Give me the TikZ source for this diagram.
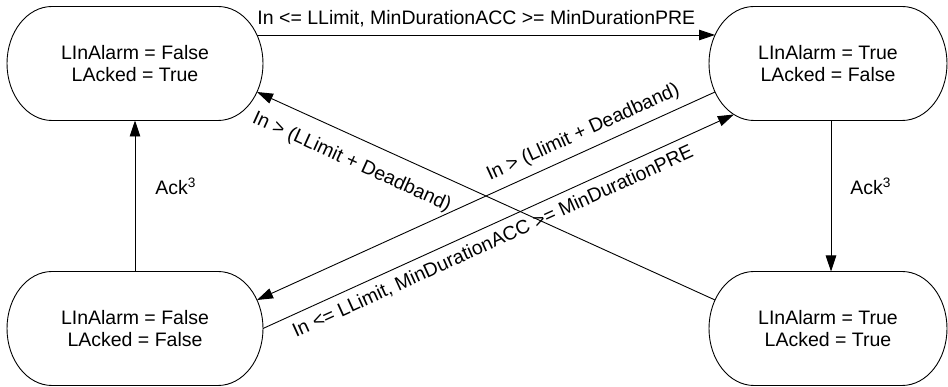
\documentclass[tikz,border=0pt]{standalone}
\usepackage{fontspec}
\setmainfont{Liberation Sans}
\usetikzlibrary{calc,arrows.meta}
\begin{document}
\begin{tikzpicture}[x=1pt,y=1pt,
  state/.style={minimum width=256pt,minimum height=114pt,inner sep=0pt,outer sep=0pt,align=center,font=\fontsize{19.5}{22.4}\selectfont,text=black},
  outline/.style={draw=black,line width=0.9pt},
  conn/.style={draw=black,line width=0.9pt,-{Triangle[length=16pt,width=10.5pt]}},
  lbl/.style={font=\fontsize{19.5}{22.4}\selectfont,inner xsep=0pt}]
\useasboundingbox (0,0) rectangle (948,387);
\node[state] (tl) at (135,323.5) {LInAlarm = False\\LAcked = True};
\node[state,minimum width=238pt] (tr) at (828,323.5) {LInAlarm = True\\LAcked = False};
\node[state] (bl) at (135,58.5) {LInAlarm = False\\LAcked = False};
\node[state,minimum width=238pt] (br) at (828,58.5) {LInAlarm = True\\LAcked = True};
\foreach \n in {tl,tr,bl,br}
  \draw[outline] ($(\n.north west)+(45,0)$) -- ($(\n.north east)+(-45,0)$)
    arc[start angle=90,end angle=-90,x radius=45,y radius=57]
    -- ($(\n.south west)+(45,0)$)
    arc[start angle=270,end angle=90,x radius=45,y radius=57] -- cycle;
\coordinate (tlE1) at ($(tl.center)+(122,28.5)$);
\coordinate (trW1) at ($(tr.center)+(-113,28.5)$);
\coordinate (tlE2) at ($(tl.center)+(122,-28.5)$);
\coordinate (brW) at ($(br.center)+(-113,28.5)$);
\coordinate (trW2) at ($(tr.center)+(-113,-28.5)$);
\coordinate (blE) at ($(bl.center)+(122,28.5)$);
\coordinate (trW3) at ($(tr.center)+(-94.1,-51)$);
\draw[conn] (tlE1) -- node[lbl,pos=0.479,anchor=south,inner ysep=8pt] {In <= LLimit, MinDurationACC >= MinDurationPRE} (trW1);
\draw[conn] (brW) -- node[lbl,sloped,pos=0.771,anchor=north,inner ysep=15.3pt] {In > (LLimit + Deadband)} (tlE2);
\draw[conn] (trW2) -- node[lbl,sloped,pos=0.272,anchor=south,inner ysep=8pt] {In > (Llimit + Deadband)} (blE);
\draw[conn] (bl.east) -- node[lbl,sloped,pos=0.474,anchor=north,inner ysep=7.5pt] {In <= LLimit, MinDurationACC >= MinDurationPRE} (trW3);
\draw[conn] (bl.north) -- node[lbl,pos=0.507,anchor=base west,inner xsep=20pt] {Ack\textsuperscript{3}} (tl.south);
\draw[conn] ([xshift=3pt]tr.south) -- node[lbl,pos=0.493,anchor=base west,inner xsep=19pt] {Ack\textsuperscript{3}} ([xshift=3pt]br.north);
\end{tikzpicture}
\end{document}
